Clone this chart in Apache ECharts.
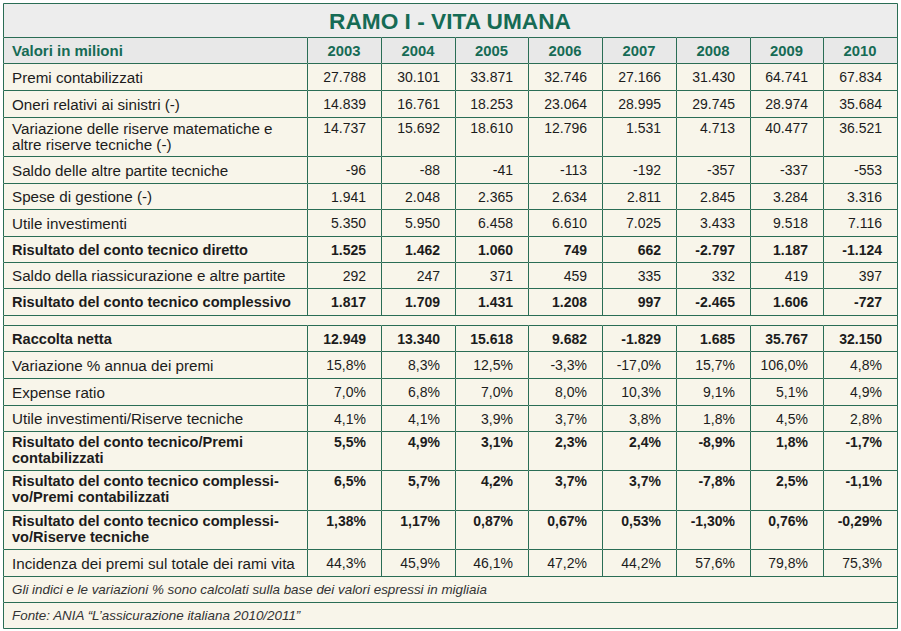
<!DOCTYPE html>
<html>
<head>
<meta charset="utf-8">
<script src="https://cdn.jsdelivr.net/npm/echarts@6/dist/echarts.min.js"></script>
<style>
html,body{margin:0;padding:0;background:#ffffff;}
#chart{width:901px;height:631px;}
</style>
</head>
<body>
<div id="chart"></div>
<script>
// ---------------- DATA ----------------
const tableTitle = 'RAMO I - VITA UMANA';
const headerLabel = 'Valori in milioni';
const years = ['2003', '2004', '2005', '2006', '2007', '2008', '2009', '2010'];

const section1Labels = [
  'Premi contabilizzati',
  'Oneri relativi ai sinistri (-)',
  'Variazione delle riserve matematiche e\naltre riserve tecniche (-)',
  'Saldo delle altre partite tecniche',
  'Spese di gestione (-)',
  'Utile investimenti',
  'Risultato del conto tecnico diretto',
  'Saldo della riassicurazione e altre partite',
  'Risultato del conto tecnico complessivo'
];
const section2Labels = [
  'Raccolta netta',
  'Variazione % annua dei premi',
  'Expense ratio',
  'Utile investimenti/Riserve tecniche',
  'Risultato del conto tecnico/Premi\ncontabilizzati',
  'Risultato del conto tecnico complessi-\nvo/Premi contabilizzati',
  'Risultato del conto tecnico complessi-\nvo/Riserve tecniche',
  'Incidenza dei premi sul totale dei rami vita'
];

const premiContabilizzati      = [27788, 30101, 33871, 32746, 27166, 31430, 64741, 67834];
const oneriSinistri            = [14839, 16761, 18253, 23064, 28995, 29745, 28974, 35684];
const variazioneRiserve        = [14737, 15692, 18610, 12796, 1531, 4713, 40477, 36521];
const saldoAltrePartite        = [-96, -88, -41, -113, -192, -357, -337, -553];
const speseGestione            = [1941, 2048, 2365, 2634, 2811, 2845, 3284, 3316];
const utileInvestimenti        = [5350, 5950, 6458, 6610, 7025, 3433, 9518, 7116];
const risultatoDiretto         = [1525, 1462, 1060, 749, 662, -2797, 1187, -1124];
const saldoRiassicurazione     = [292, 247, 371, 459, 335, 332, 419, 397];
const risultatoComplessivo     = [1817, 1709, 1431, 1208, 997, -2465, 1606, -727];

const raccoltaNetta            = [12949, 13340, 15618, 9682, -1829, 1685, 35767, 32150];
const variazionePremiPct       = [15.8, 8.3, 12.5, -3.3, -17.0, 15.7, 106.0, 4.8];
const expenseRatioPct          = [7.0, 6.8, 7.0, 8.0, 10.3, 9.1, 5.1, 4.9];
const utileSuRiservePct        = [4.1, 4.1, 3.9, 3.7, 3.8, 1.8, 4.5, 2.8];
const risultatoSuPremiPct      = [5.5, 4.9, 3.1, 2.3, 2.4, -8.9, 1.8, -1.7];
const complessivoSuPremiPct    = [6.5, 5.7, 4.2, 3.7, 3.7, -7.8, 2.5, -1.1];
const complessivoSuRiservePct  = [1.38, 1.17, 0.87, 0.67, 0.53, -1.30, 0.76, -0.29];
const incidenzaPremiPct        = [44.3, 45.9, 46.1, 47.2, 44.2, 57.6, 79.8, 75.3];

const notes = [
  'Gli indici e le variazioni % sono calcolati sulla base dei valori espressi in migliaia',
  'Fonte: ANIA \u201CL\u2019assicurazione italiana 2010/2011\u201D'
];

// ---------------- FORMAT ----------------
function fmtInt(v) {
  const s = Math.abs(v).toString().replace(/\B(?=(\d{3})+(?!\d))/g, '.');
  return (v < 0 ? '-' : '') + s;
}
function fmtPct(v, d) {
  return v.toFixed(d).replace('.', ',') + '%';
}

const section1Values = [premiContabilizzati, oneriSinistri, variazioneRiserve, saldoAltrePartite,
  speseGestione, utileInvestimenti, risultatoDiretto, saldoRiassicurazione, risultatoComplessivo];
const section2Values = [raccoltaNetta, variazionePremiPct, expenseRatioPct, utileSuRiservePct,
  risultatoSuPremiPct, complessivoSuPremiPct, complessivoSuRiservePct, incidenzaPremiPct];
const section2Format = [
  v => fmtInt(v), v => fmtPct(v, 1), v => fmtPct(v, 1), v => fmtPct(v, 1),
  v => fmtPct(v, 1), v => fmtPct(v, 1), v => fmtPct(v, 2), v => fmtPct(v, 1)
];

// ---------------- LAYOUT / STYLE ----------------
const FONT = '"Liberation Sans", Arial, Helvetica, sans-serif';
const GREEN = '#166b55';
const BORDER = '#2a6d55';
const CREAM = '#f8f5ea';
const GRAY_T = '#ededed';
const GRAY_H = '#e8e8e8';
const TEXT = '#1c1c1c';
const bold1 = [6, 8];
const bold2 = [0, 4, 5, 6];

const TABLE_W = 894, TABLE_H = 625;
const LABEL_W = 304;
const YEAR_W = (TABLE_W - LABEL_W) / years.length;
const H = { title: 34, header: 26, spacer: 10, note: 26 };
const singleH1 = [27, 27, 27, 26, 27, 26, 26, 27];
const singleH2 = [26, 27, 27, 26, 27];
const doubleH = [39, 39, 40, 39];

const rows = [];
rows.push({ kind: 'title', h: H.title });
rows.push({ kind: 'header', h: H.header });
let di = 0;
function nextH(label, list) {
  if (label.indexOf('\n') >= 0) return doubleH[di++];
  return list.shift();
}
const s1 = singleH1.slice(), s2 = singleH2.slice();
section1Labels.forEach((lab, i) => rows.push({
  kind: 'data', label: lab, values: section1Values[i].map(fmtInt),
  bold: bold1.indexOf(i) >= 0, h: nextH(lab, s1)
}));
rows.push({ kind: 'spacer', h: H.spacer });
section2Labels.forEach((lab, i) => rows.push({
  kind: 'data', label: lab, values: section2Values[i].map(section2Format[i]),
  bold: bold2.indexOf(i) >= 0, h: nextH(lab, s2)
}));
notes.forEach(n => rows.push({ kind: 'note', label: n, h: H.note }));

const cells = [];
let yAcc = 0;
rows.forEach(r => {
  const y0 = yAcc, y1 = yAcc + r.h;
  yAcc = y1;
  if (r.kind === 'title') {
    cells.push({ value: [0, y0, TABLE_W, y1], bg: GRAY_T, text: tableTitle, role: 'title' });
  } else if (r.kind === 'spacer') {
    cells.push({ value: [0, y0, TABLE_W, y1], bg: CREAM, text: '', role: 'spacer' });
  } else if (r.kind === 'note') {
    cells.push({ value: [0, y0, TABLE_W, y1], bg: CREAM, text: r.label, role: 'note' });
  } else if (r.kind === 'header') {
    cells.push({ value: [0, y0, LABEL_W, y1], bg: GRAY_H, text: headerLabel, role: 'hlabel' });
    years.forEach((yr, i) => cells.push({
      value: [LABEL_W + i * YEAR_W, y0, LABEL_W + (i + 1) * YEAR_W, y1], bg: GRAY_H, text: yr, role: 'hyear'
    }));
  } else {
    const dbl = r.label.indexOf('\n') >= 0;
    cells.push({ value: [0, y0, LABEL_W, y1], bg: CREAM, text: r.label, role: 'label', bold: r.bold, dbl: dbl });
    r.values.forEach((v, i) => cells.push({
      value: [LABEL_W + i * YEAR_W, y0, LABEL_W + (i + 1) * YEAR_W, y1], bg: CREAM, text: v, role: 'value', bold: r.bold, dbl: dbl
    }));
  }
});

function renderItem(params, api) {
  const c = cells[params.dataIndex];
  const p0 = api.coord([api.value(0), api.value(1)]);
  const p1 = api.coord([api.value(2), api.value(3)]);
  const x0 = Math.round(p0[0]), y0 = Math.round(p0[1]);
  const x1 = Math.round(p1[0]), y1 = Math.round(p1[1]);
  const children = [
    { type: 'rect', shape: { x: x0, y: y0, width: x1 - x0, height: y1 - y0 }, style: { fill: c.bg } },
    { type: 'rect', shape: { x: x0 + 0.5, y: y0 + 0.5, width: x1 - x0, height: y1 - y0 },
      style: { fill: 'none', stroke: BORDER, lineWidth: 1 } }
  ];
  if (c.text) {
    let st = { text: c.text, fill: TEXT, fontFamily: FONT, fontSize: 14, fontWeight: c.bold ? 'bold' : 'normal',
      fontStyle: 'normal', lineHeight: 16 };
    let x, y, align = 'left', va = 'middle';
    const cy = (y0 + y1) / 2 + 0.5;
    if (c.role === 'title') {
      x = (x0 + x1) / 2; y = cy + 0.5; align = 'center';
      st.fontSize = 22.7; st.fontWeight = 'bold'; st.fill = GREEN; st.lineHeight = 24;
    } else if (c.role === 'hlabel') {
      x = x0 + 9; y = cy; st.fontWeight = 'bold'; st.fill = GREEN; st.fontSize = 15;
    } else if (c.role === 'hyear') {
      x = (x0 + x1) / 2; y = cy; align = 'center'; st.fontWeight = 'bold'; st.fill = GREEN; st.fontSize = 14.8;
    } else if (c.role === 'note') {
      x = x0 + 9; y = cy; st.fontSize = 13.4; st.fontStyle = 'italic'; st.fill = '#333333';
    } else if (c.role === 'label') {
      x = x0 + 9;
      st.fontSize = c.bold ? 14.6 : 15.2;
      if (c.dbl) { y = y0 + 3; va = 'top'; } else { y = cy; }
    } else {
      x = x1 - 15; align = 'right';
      if (c.dbl) { y = y0 + 3; va = 'top'; } else { y = cy; }
    }
    st.x = x; st.y = y;
    st.align = align; st.textAlign = align;
    st.verticalAlign = va; st.textVerticalAlign = va;
    children.push({ type: 'text', style: st });
  }
  return { type: 'group', children: children };
}

const chart = echarts.init(document.getElementById('chart'), null, { renderer: 'svg' });
chart.setOption({
  animation: false,
  backgroundColor: '#ffffff',
  grid: { left: 3, right: 4, top: 3, bottom: 3 },
  xAxis: { type: 'value', min: 0, max: TABLE_W, show: false },
  yAxis: { type: 'value', min: 0, max: TABLE_H, inverse: true, show: false },
  series: [{
    type: 'custom',
    renderItem: renderItem,
    data: cells.map(c => c.value),
    encode: { x: [0, 2], y: [1, 3] },
    silent: true,
    clip: false
  }]
});
</script>
</body>
</html>
